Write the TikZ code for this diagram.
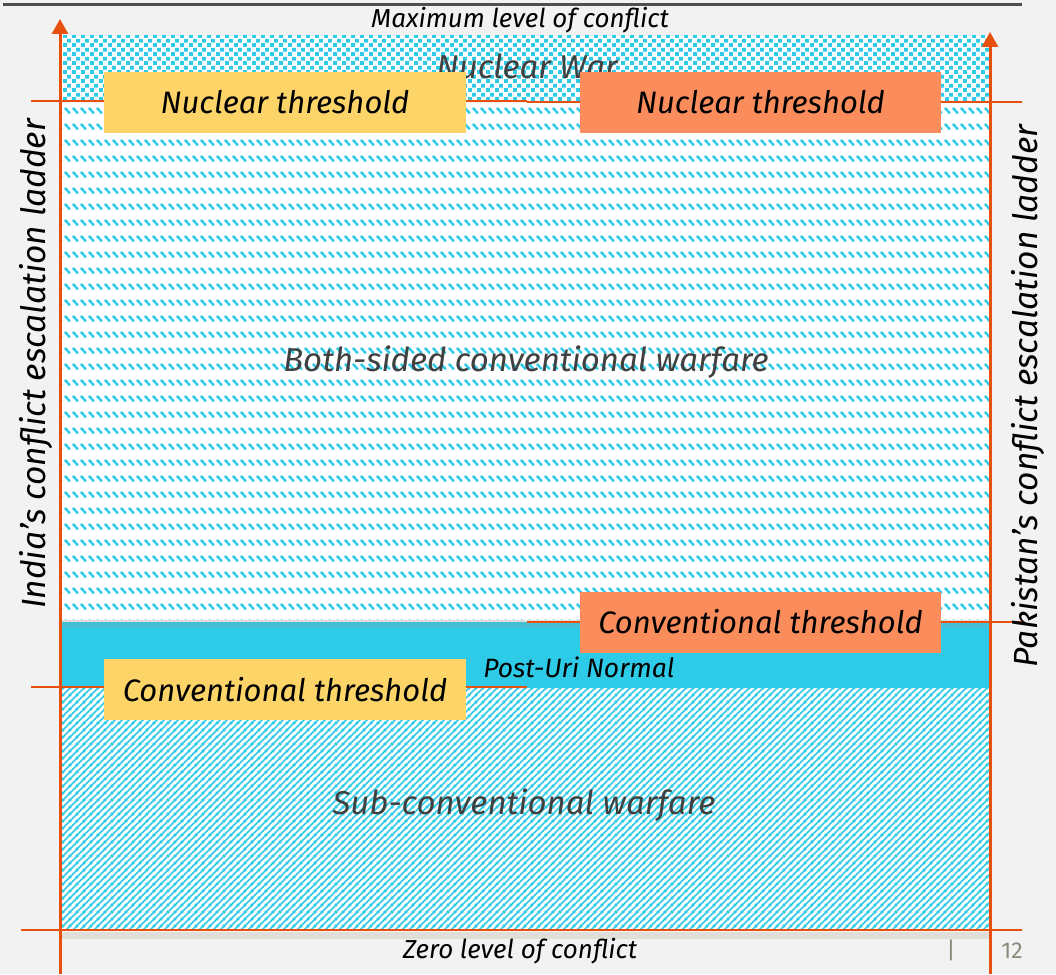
\documentclass[tikz,border=0pt]{standalone}
\usepackage{fontspec}
\setmainfont{Fira Sans}
\usetikzlibrary{arrows.meta,patterns.meta}
\definecolor{bgc}{HTML}{F2F2F2}
\definecolor{cyanc}{HTML}{2ECBE8}
\definecolor{cyandk}{HTML}{45BFD6}
\definecolor{yelc}{HTML}{FCD468}
\definecolor{orac}{HTML}{FB8C5C}
\definecolor{axc}{HTML}{E8500F}
\definecolor{topc}{HTML}{4F4F4F}
\definecolor{labc}{HTML}{404040}
\definecolor{pgc}{HTML}{8C8A7A}
\definecolor{shc}{HTML}{DFDED9}
\pgfdeclarepattern{
  name=nucsq, type=uncolored,
  bottom left={\pgfpoint{0pt}{0pt}}, top right={\pgfpoint{9pt}{9pt}},
  tile size={\pgfpoint{9pt}{9pt}},
  code={
    \pgfpathrectangle{\pgfpoint{0.2pt}{0.2pt}}{\pgfpoint{4.1pt}{4.1pt}}
    \pgfpathrectangle{\pgfpoint{4.7pt}{4.7pt}}{\pgfpoint{4.1pt}{4.1pt}}
    \pgfusepath{fill}
  }
}
\pgfdeclarepattern{
  name=bothdash, type=uncolored,
  bottom left={\pgfpoint{0pt}{0pt}}, top right={\pgfpoint{8pt}{15.5pt}},
  tile size={\pgfpoint{8pt}{15.5pt}},
  code={
    \pgfsetlinewidth{2.6pt}
    \pgfpathmoveto{\pgfpoint{1pt}{13.5pt}}
    \pgfpathlineto{\pgfpoint{6.5pt}{8pt}}
    \pgfusepath{stroke}
  }
}
\pgfdeclarepattern{
  name=subline, type=uncolored,
  bottom left={\pgfpoint{0pt}{0pt}}, top right={\pgfpoint{7pt}{7pt}},
  tile size={\pgfpoint{7pt}{7pt}},
  code={
    \pgfsetlinewidth{1.8pt}
    \pgfpathmoveto{\pgfpoint{-7pt}{-7pt}}\pgfpathlineto{\pgfpoint{14pt}{14pt}}
    \pgfpathmoveto{\pgfpoint{-7pt}{0pt}}\pgfpathlineto{\pgfpoint{7pt}{14pt}}
    \pgfpathmoveto{\pgfpoint{0pt}{-7pt}}\pgfpathlineto{\pgfpoint{14pt}{7pt}}
    \pgfusepath{stroke}
  }
}
\tikzset{
  boxy/.style={fill=yelc, minimum width=362pt, minimum height=61pt, inner sep=0pt, font=\fontsize{31}{34}\selectfont\itshape, text=black},
  boxo/.style={fill=orac, minimum width=361pt, minimum height=61pt, inner sep=0pt, font=\fontsize{31}{34}\selectfont\itshape, text=black},
  reglab/.style={font=\fontsize{33}{36}\selectfont\itshape, text=labc, inner sep=0pt},
  smalllab/.style={font=\fontsize{26}{29}\selectfont\itshape, text=black, inner sep=0pt},
  sidelab/.style={font=\fontsize{33.5}{36}\selectfont\itshape, text=black, inner sep=0pt, rotate=90},
  hline/.style={draw=axc, line width=2.5pt},
  axis/.style={draw=axc, line width=3pt, -{Triangle[width=16pt,length=15pt]}},
}
\begin{document}
\begin{tikzpicture}[x=1pt,y=-1pt]
\useasboundingbox (0,0) rectangle (1056,974);
\fill[bgc] (0,0) rectangle (1056,974);
% top rule
\draw[topc, line width=3pt] (3,5) -- (1022,5);
% regions
\fill[white] (62,36) rectangle (990,100);
\fill[pattern=nucsq, pattern color=cyanc] (62,36) rectangle (990,100);
\fill[white] (62,103) rectangle (990,620);
\fill[pattern=bothdash, pattern color=cyanc] (62,103) rectangle (990,620);
\fill[shc] (62,619.5) rectangle (990,622);
\fill[cyanc] (62,622) rectangle (990,688);
\fill[cyandk] (62,622) rectangle (990,628);
\fill[white] (62,688) rectangle (990,929);
\fill[pattern=subline, pattern color=cyanc] (62,688) rectangle (990,929);
\fill[shc] (62,931.5) rectangle (990,939);
% region labels
\node[reglab] (nw) at (527,66) {Nuclear War};
\node[reglab] (both) at (526,362) {Both-sided conventional warfare};
\node[smalllab, font=\fontsize{26.5}{29}\selectfont\itshape] (pu) at (579,667) {Post-Uri Normal};
\node[reglab] (sub) at (524,805) {Sub-conventional warfare};
\node[smalllab] (maxl) at (520,20) {Maximum level of conflict};
\node[smalllab] (zerol) at (520,951) {Zero level of conflict};
% threshold lines
\coordinate (nl1) at (31,101);
\coordinate (nl2) at (527,101);
\coordinate (nr1) at (527,102);
\coordinate (nr2) at (1022,102);
\coordinate (cl1) at (31,687);
\coordinate (cl2) at (527,687);
\coordinate (cr1) at (527,622);
\coordinate (cr2) at (1022,622);
\coordinate (bl1) at (21,930);
\coordinate (bl2) at (1022,930);
\draw[hline] (nl1) -- (nl2);
\draw[hline] (nr1) -- (nr2);
\draw[hline] (cl1) -- (cl2);
\draw[hline] (cr1) -- (cr2);
\draw[hline] (bl1) -- (bl2);
% boxes
\node[boxy] (ynt) at (285,102) {Nuclear threshold};
\node[boxo] (ont) at (760.5,102.5) {Nuclear threshold};
\node[boxo] (oct) at (760.5,622) {Conventional threshold};
\node[boxy] (yct) at (285,689.5) {Conventional threshold};
% axes
\coordinate (la0) at (60,974);
\coordinate (la1) at (60,19);
\coordinate (ra0) at (990,974);
\coordinate (ra1) at (990,32);
\draw[axis] (la0) -- (la1);
\draw[axis] (ra0) -- (ra1);
% side labels
\node[sidelab] (india) at (36,364) {India’s conflict escalation ladder};
\node[sidelab] (pak) at (1028,396) {Pakistan’s conflict escalation ladder};
% page number
\node[font=\fontsize{23}{25}\selectfont, text=pgc, inner sep=0pt] (bar) at (951,950) {|};
\node[font=\fontsize{23}{25}\selectfont, text=pgc, inner sep=0pt] (pg) at (1012,951) {12};
\end{tikzpicture}
\end{document}
